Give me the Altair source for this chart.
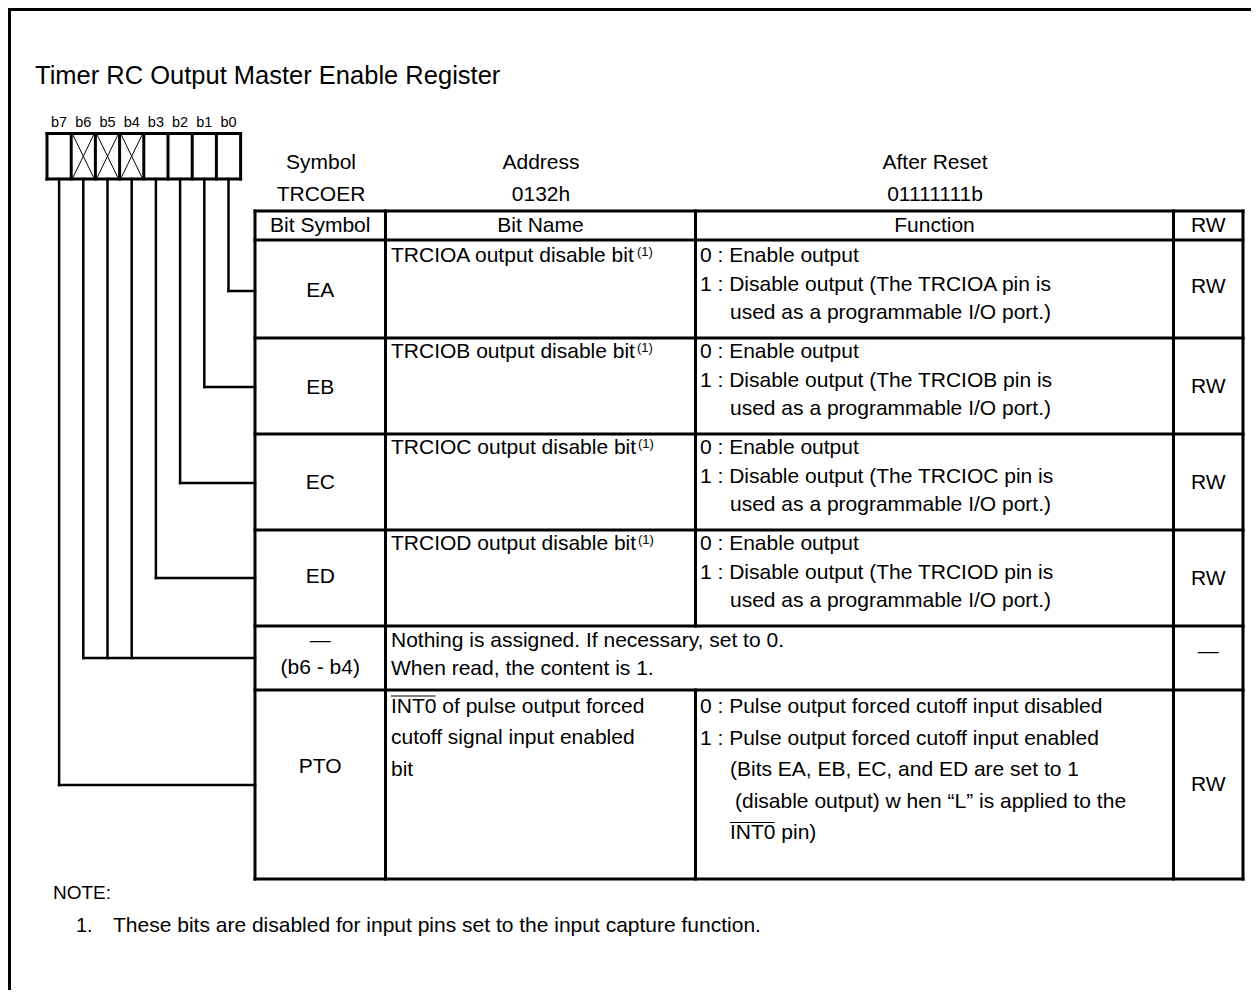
import altair as alt
import pandas as pd

# ---------------- content ----------------
TITLE = "Timer RC Output Master Enable Register"
BIT_LABELS = ["b7", "b6", "b5", "b4", "b3", "b2", "b1", "b0"]
BIT_RESERVED = [False, True, True, True, False, False, False, False]
BIT_ROW = [5, 4, 4, 4, 3, 2, 1, 0]  # table row each bit is wired to
INFO_LABELS = ["Symbol", "Address", "After Reset"]
INFO_VALUES = ["TRCOER", "0132h", "01111111b"]
COLUMN_HEADERS = ["Bit Symbol", "Bit Name", "Function", "RW"]
ROW_SYMBOLS = [["EA"], ["EB"], ["EC"], ["ED"], ["\u2014", "(b6 - b4)"], ["PTO"]]
ROW_NAMES = [
    ["TRCIOA output disable bit"],
    ["TRCIOB output disable bit"],
    ["TRCIOC output disable bit"],
    ["TRCIOD output disable bit"],
    ["Nothing is assigned. If necessary, set to 0.", "When read, the content is 1."],
    ["INT0 of pulse output forced", "cutoff signal input enabled", "bit"],
]
ROW_FUNCTIONS = [
    ["0 : Enable output", "1 : Disable output (The TRCIOA pin is", "used as a programmable I/O port.)"],
    ["0 : Enable output", "1 : Disable output (The TRCIOB pin is", "used as a programmable I/O port.)"],
    ["0 : Enable output", "1 : Disable output (The TRCIOC pin is", "used as a programmable I/O port.)"],
    ["0 : Enable output", "1 : Disable output (The TRCIOD pin is", "used as a programmable I/O port.)"],
    [],
    ["0 : Pulse output forced cutoff  input disabled",
     "1 : Pulse output forced cutoff input enabled",
     "(Bits EA, EB, EC, and ED are set to 1",
     "(disable output) w hen \u201cL\u201d is applied to the",
     "INT0 pin)"],
]
ROW_RW = ["RW", "RW", "RW", "RW", "\u2014", "RW"]
ROW_FOOTNOTE = [True, True, True, True, False, False]
FOOTNOTE_MARK = "(1)"
OVERLINED = "INT0"
NOTE_TITLE = "NOTE:"
NOTE_NUMBERS = ["1."]
NOTE_TEXTS = ["These bits are disabled for input pins set to the input capture function."]

# ---------------- layout (pixels on the page) ----------------
PAGE_W, PAGE_H, MARGIN = 1259, 998, 8
VIEW_W, VIEW_H = PAGE_W - 2 * MARGIN, PAGE_H - 2 * MARGIN
FRAME = 9.5
TITLE_XY = (35, 76)
REG_LEFT, REG_TOP, REG_BOTTOM, CELL_W = 47, 133.5, 179, 24.2
BIT_LABEL_Y = 123
INFO_X = [321, 541, 935]
INFO_Y = [163, 195]
COL_EDGES = [255, 385.5, 695.5, 1173.5, 1243]
TABLE_TOP = 211
HEADER_Y = 225.5
ROW_EDGES = [240, 338, 434, 530, 626, 690, 879]
NO_FUNC_DIVIDER_ROW = 4
CONNECT_Y = [291, 387, 483, 578, 658, 785]
ROW_LAYOUT = [
    dict(sym=[51], y0=16, step=28.5, indent=[0, 0, 30], rw=47),
    dict(sym=[50], y0=14, step=28.5, indent=[0, 0, 30], rw=49),
    dict(sym=[49], y0=14, step=28.5, indent=[0, 0, 30], rw=49),
    dict(sym=[47], y0=14, step=28.5, indent=[0, 0, 30], rw=49),
    dict(sym=[15, 42], y0=15, step=28, indent=[], rw=26),
    dict(sym=[77], y0=16.5, step=31.5, indent=[0, 0, 30, 35, 30], rw=95),
]
NAME_PAD, FUNC_PAD = 5.5, 4.5
FOOTNOTE_X = [637, 637, 638, 638, 0, 0]
OVERLINE_W = 44
NOTE_TITLE_XY = (53, 893)
NOTE_NUM_X, NOTE_TEXT_X, NOTE_Y0 = 76, 113, 926

FONT = "Liberation Sans"
TABLE_SIZE = 21

# ---------------- build marks ----------------
rules = []
def rule(x, y, x2, y2, w):
    rules.append(dict(x=x, y=y, x2=x2, y2=y2, w=w))

left_txt, mid_txt = [], []
def ltext(x, y, t, s=TABLE_SIZE):
    left_txt.append(dict(x=x, y=y, text=t, size=s))
def ctext(x, y, t, s=TABLE_SIZE):
    mid_txt.append(dict(x=x, y=y, text=t, size=s))

# frame
rule(FRAME, FRAME, MARGIN + VIEW_W, FRAME, 3)
rule(FRAME, FRAME, FRAME, MARGIN + VIEW_H, 3)

# title
ltext(TITLE_XY[0], TITLE_XY[1], TITLE, 25.5)

# register box
reg_right = REG_LEFT + 8 * CELL_W
rule(REG_LEFT, REG_TOP, reg_right, REG_TOP, 3)
rule(REG_LEFT, REG_BOTTOM, reg_right, REG_BOTTOM, 3)
for i in range(9):
    xx = REG_LEFT + i * CELL_W
    rule(xx, REG_TOP, xx, REG_BOTTOM, 3)
for i, lab in enumerate(BIT_LABELS):
    cx = REG_LEFT + (i + 0.5) * CELL_W
    ctext(cx, BIT_LABEL_Y, lab, 14.5)
    if BIT_RESERVED[i]:
        x0 = REG_LEFT + i * CELL_W + 2
        x1 = REG_LEFT + (i + 1) * CELL_W - 2
        rule(x0, REG_TOP + 2, x1, REG_BOTTOM - 2, 1)
        rule(x0, REG_BOTTOM - 2, x1, REG_TOP + 2, 1)
    rule(cx, REG_BOTTOM, cx, CONNECT_Y[BIT_ROW[i]], 2.5)
for r in sorted(set(BIT_ROW)):
    xs_ = [REG_LEFT + (i + 0.5) * CELL_W for i in range(8) if BIT_ROW[i] == r]
    rule(min(xs_), CONNECT_Y[r], COL_EDGES[0], CONNECT_Y[r], 2.5)

# info headers
for k in range(3):
    ctext(INFO_X[k], INFO_Y[0], INFO_LABELS[k])
    ctext(INFO_X[k], INFO_Y[1], INFO_VALUES[k])

# table grid
rule(COL_EDGES[0], TABLE_TOP, COL_EDGES[-1], TABLE_TOP, 3)
for yy in ROW_EDGES:
    rule(COL_EDGES[0], yy, COL_EDGES[-1], yy, 3)
for j, xx in enumerate(COL_EDGES):
    if j == 2:
        rule(xx, TABLE_TOP, xx, ROW_EDGES[NO_FUNC_DIVIDER_ROW], 3)
        rule(xx, ROW_EDGES[NO_FUNC_DIVIDER_ROW + 1], xx, ROW_EDGES[-1], 3)
    else:
        rule(xx, TABLE_TOP, xx, ROW_EDGES[-1], 3)

# column headers
for j, h in enumerate(COLUMN_HEADERS):
    ctext((COL_EDGES[j] + COL_EDGES[j + 1]) / 2, HEADER_Y, h)

sym_cx = (COL_EDGES[0] + COL_EDGES[1]) / 2
rw_cx = (COL_EDGES[3] + COL_EDGES[4]) / 2
for r in range(len(ROW_SYMBOLS)):
    top = ROW_EDGES[r]
    lay = ROW_LAYOUT[r]
    for s, dy in zip(ROW_SYMBOLS[r], lay["sym"]):
        ctext(sym_cx, top + dy, s)
    nx = COL_EDGES[1] + NAME_PAD
    for k, line in enumerate(ROW_NAMES[r]):
        ly = top + lay["y0"] + k * lay["step"]
        ltext(nx, ly, line)
        if line.startswith(OVERLINED):
            rule(nx + 0.5, ly - 10.5, nx + OVERLINE_W, ly - 10.5, 1.2)
        if k == 0 and ROW_FOOTNOTE[r]:
            ltext(FOOTNOTE_X[r], ly - 4, FOOTNOTE_MARK, 13)
    fx = COL_EDGES[2] + FUNC_PAD
    for k, line in enumerate(ROW_FUNCTIONS[r]):
        ly = top + lay["y0"] + k * lay["step"] + (0.5 if r == 5 else 0)
        x0 = fx + lay["indent"][k]
        ltext(x0, ly, line)
        if line.startswith(OVERLINED):
            rule(x0 + 0.5, ly - 10.5, x0 + OVERLINE_W, ly - 10.5, 1.2)
    ctext(rw_cx, top + lay["rw"], ROW_RW[r])

# notes
ltext(NOTE_TITLE_XY[0], NOTE_TITLE_XY[1], NOTE_TITLE, 19)
for k, (num, txt) in enumerate(zip(NOTE_NUMBERS, NOTE_TEXTS)):
    ltext(NOTE_NUM_X, NOTE_Y0 + k * 30, num, 20)
    ltext(NOTE_TEXT_X, NOTE_Y0 + k * 30, txt, 21)

# ---------------- chart ----------------
xs = alt.Scale(domain=[MARGIN, MARGIN + VIEW_W], nice=False, zero=False)
ys = alt.Scale(domain=[MARGIN, MARGIN + VIEW_H], nice=False, zero=False, reverse=True)

rule_layer = alt.Chart(pd.DataFrame(rules)).mark_rule(color="black", strokeCap="square").encode(
    x=alt.X("x:Q", scale=xs, axis=None),
    y=alt.Y("y:Q", scale=ys, axis=None),
    x2="x2:Q",
    y2="y2:Q",
    strokeWidth=alt.StrokeWidth("w:Q", scale=None),
)

def text_layer(rows, align):
    return alt.Chart(pd.DataFrame(rows)).mark_text(
        font=FONT, align=align, baseline="middle", color="black"
    ).encode(
        x=alt.X("x:Q", scale=xs, axis=None),
        y=alt.Y("y:Q", scale=ys, axis=None),
        text="text:N",
        size=alt.Size("size:Q", scale=None),
    )

chart = alt.layer(
    rule_layer, text_layer(left_txt, "left"), text_layer(mid_txt, "center")
).properties(
    width=VIEW_W, height=VIEW_H, padding=0, autosize="none",
    background="white",
).configure_view(stroke=None)

chart.save("out.html", embed_options={"renderer": "svg", "actions": False})
